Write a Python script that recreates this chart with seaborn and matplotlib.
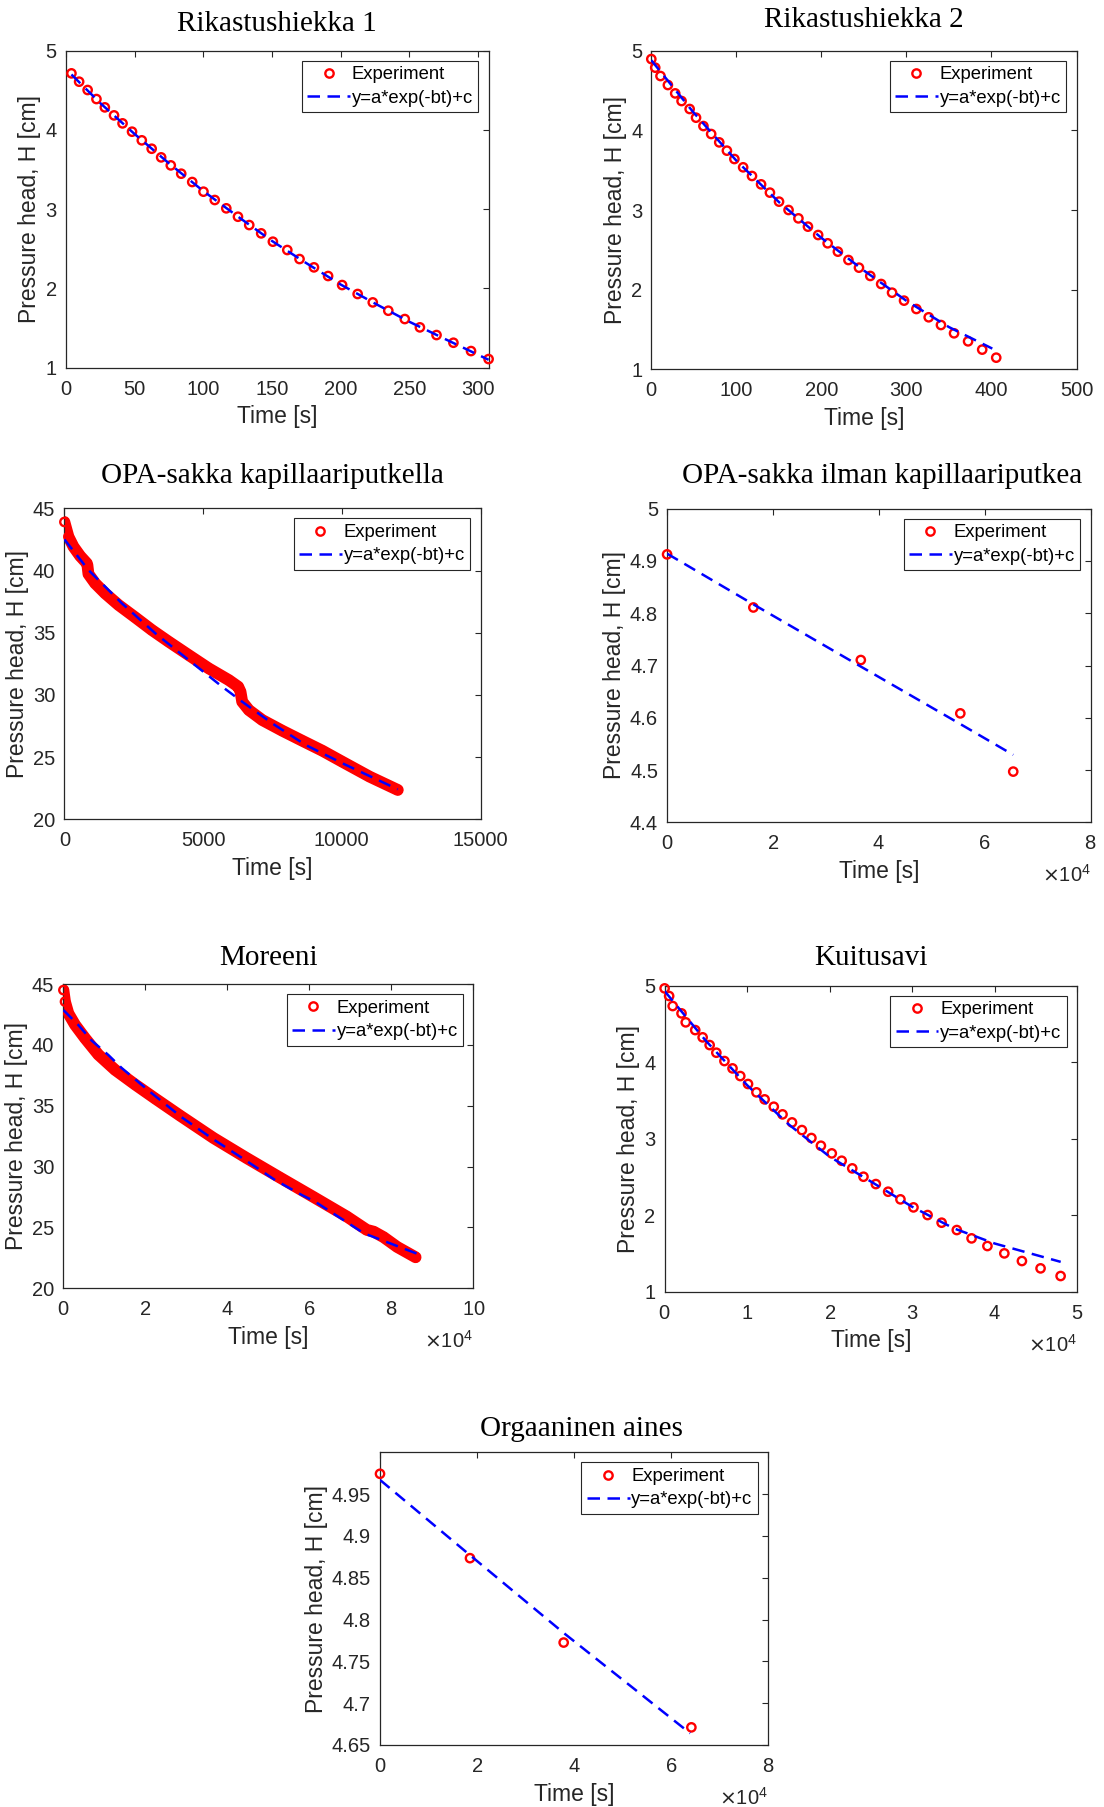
#!/usr/bin/env python3
"""
Falling-head test results: pressure head vs time for seven soil samples,
experiment points with the fitted curve y=a*exp(-bt)+c.
"""

import numpy as np
import pandas as pd
import matplotlib
matplotlib.use("Agg")
import matplotlib.pyplot as plt
import seaborn as sns
from matplotlib.lines import Line2D
from matplotlib.ticker import FuncFormatter, ScalarFormatter

# ── Style ─────────────────────────────────────────────────────────────────────
sns.set_theme(style="white")
plt.rcParams["font.family"] = ["Liberation Sans", "DejaVu Sans"]
DARK = (0.15, 0.15, 0.15)
MS, MEW = 6.0, 1.7          # marker size / edge width (pt)
FIT_LW, FIT_DASH = 1.8, (5.0, 3.0)

# ── Data ──────────────────────────────────────────────────────────────────────
# Rikastushiekka 1
rik1_t = [4.1, 9.7, 15.9, 22.3, 28.4, 35.1, 41.3, 48.2, 55.3, 62.5, 69.4, 76.4,
          84.0, 92.0, 100.2, 108.4, 116.8, 125.3, 133.5, 142.2, 150.7, 161.2,
          170.1, 180.6, 190.9, 201.1, 212.4, 223.4, 234.7, 246.7, 257.7, 269.8,
          282.1, 294.9, 307.7]
rik1_h = [4.714, 4.609, 4.504, 4.39, 4.285, 4.184, 4.083, 3.978, 3.869, 3.763,
          3.654, 3.553, 3.448, 3.343, 3.221, 3.116, 3.011, 2.905, 2.80, 2.695,
          2.590, 2.485, 2.371, 2.266, 2.157, 2.043, 1.930, 1.824, 1.719, 1.614,
          1.509, 1.412, 1.315, 1.210, 1.109]
rik1_fit_t = [4.1, 25, 50, 75, 100, 125, 150, 175, 200, 225, 250, 275, 307.7]
rik1_fit_h = [4.70, 4.34, 3.95, 3.58, 3.23, 2.91, 2.60, 2.32, 2.05, 1.81, 1.58, 1.37, 1.10]

# Rikastushiekka 2
rik2_t = [0, 4.6, 10.8, 19.5, 28.1, 35.6, 45.1, 52.6, 61.3, 70.4, 79.9, 88.9,
          97.7, 108.0, 118.4, 129.1, 139.5, 150.2, 161.4, 173.0, 184.2, 196.2,
          207.4, 219.4, 231.8, 244.2, 257.5, 270.3, 283.1, 297.2, 311.7, 326.2,
          340.6, 356.0, 372.5, 389.1, 405.6]
rik2_h = [4.895, 4.787, 4.682, 4.569, 4.464, 4.368, 4.268, 4.159, 4.054, 3.954,
          3.849, 3.745, 3.640, 3.536, 3.427, 3.322, 3.218, 3.105, 3.0, 2.895,
          2.791, 2.686, 2.582, 2.477, 2.372, 2.276, 2.172, 2.071, 1.962, 1.862,
          1.757, 1.653, 1.556, 1.452, 1.351, 1.247, 1.146]
rik2_fit_t = [0, 50, 100, 150, 200, 250, 300, 350, 401]
rik2_fit_h = [4.88, 4.22, 3.62, 3.10, 2.65, 2.24, 1.86, 1.53, 1.26]

# OPA-sakka kapillaariputkella
opa1_t = [0, 145, 325, 566, 807, 830, 867, 1108, 1470, 1952, 2554, 3157, 3759,
          4482, 5205, 5928, 6265, 6349, 6410, 6651, 7133, 7855, 8578, 9301,
          10024, 11002, 12018]
opa1_h = [43.9, 42.72, 41.92, 41.17, 40.58, 40.42, 39.72, 38.97, 38.16, 37.23,
          36.23, 35.21, 34.28, 33.2, 32.13, 31.19, 30.66, 30.25, 29.45, 28.78,
          27.98, 27.12, 26.31, 25.51, 24.62, 23.43, 22.36]
opa1_fit_t = [0, 867, 2072, 3277, 4482, 5687, 6410, 7494, 8699, 10024, 12018]
opa1_fit_h = [42.5, 40.04, 37.36, 34.95, 32.8, 30.66, 29.45, 27.71, 25.97, 24.5, 22.41]

# OPA-sakka ilman kapillaariputkea
opa2_t = [0, 16300, 36600, 55400, 65400]
opa2_h = [4.9126, 4.811, 4.7105, 4.6084, 4.497]
opa2_fit_t = [0, 16300, 36600, 55400, 65400]
opa2_fit_h = [4.914, 4.817, 4.698, 4.588, 4.529]

# Moreeni
mor_t = [0, 390, 1200, 2830, 5270, 8520, 12590, 17460, 22340, 28400, 36600,
         44700, 52800, 61000, 69100, 74000, 75700, 78100, 81400, 85900]
mor_h = [44.5, 43.55, 42.59, 41.65, 40.55, 39.2, 37.95, 36.75, 35.6, 34.2, 32.35,
         30.7, 29.1, 27.5, 25.9, 24.8, 24.65, 24.2, 23.4, 22.55]
mor_fit_t = [0, 3640, 6900, 10950, 14210, 18270, 21530, 28850, 36170, 44290,
             51610, 58120, 61370, 73300, 86200]
mor_fit_h = [42.86, 41.63, 40.35, 39.17, 38.1, 36.95, 36.03, 34.05, 32.33, 30.55,
             28.90, 27.67, 27.12, 24.52, 22.85]

# Kuitusavi
kui_t = [0, 550, 980, 2050, 2560, 3710, 4610, 5460, 6270, 7250, 8230, 9170,
         10110, 11130, 12120, 13230, 14290, 15440, 16640, 17790, 18940, 20260,
         21460, 22740, 24100, 25600, 27090, 28580, 30160, 31870, 33570, 35410,
         37200, 39120, 41170, 43300, 45560, 47990]
kui_h = [4.965, 4.865, 4.734, 4.638, 4.521, 4.42, 4.325, 4.224, 4.124, 4.015,
         3.919, 3.819, 3.715, 3.606, 3.514, 3.418, 3.318, 3.213, 3.113, 3.009,
         2.908, 2.808, 2.712, 2.612, 2.503, 2.407, 2.307, 2.207, 2.102, 2.002,
         1.902, 1.806, 1.697, 1.597, 1.501, 1.401, 1.305, 1.205]
kui_fit_t = [0, 5000, 10000, 15000, 20000, 25000, 30000, 35000, 40000, 45000, 48000]
kui_fit_h = [4.93, 4.28, 3.70, 3.19, 2.765, 2.44, 2.11, 1.83, 1.63, 1.48, 1.39]

# Orgaaninen aines
org_t = [0, 18540, 37840, 64150]
org_h = [4.9743, 4.8734, 4.7725, 4.6711]
org_fit_t = [0, 18540, 37840, 63900]
org_fit_h = [4.967, 4.877, 4.784, 4.664]

LEGEND_LABELS = ["Experiment", "y=a*exp(-bt)+c"]

# ── Figure ────────────────────────────────────────────────────────────────────
FIG_W, FIG_H = 1104, 1807
fig = plt.figure(figsize=(FIG_W / 100, FIG_H / 100), dpi=100)
fig.patch.set_facecolor("white")


def add_axes(left, top, right, bottom):
    return fig.add_axes([left / FIG_W, 1 - bottom / FIG_H,
                         (right - left) / FIG_W, (bottom - top) / FIG_H])


def draw_panel(ax, title, t, h, fit_t, fit_h, xlim, xticks, ylim, yticks,
               sci=False, dense=False, title_pad=14, title_x=0.5):
    exp_df = pd.DataFrame({"t": t, "h": h})
    fit_df = pd.DataFrame({"t": fit_t, "h": fit_h})

    if dense:
        # thousands of overlapping circles form a thick red band
        sns.lineplot(data=exp_df, x="t", y="h", ax=ax, color="red", linewidth=8.5,
                     sort=False, estimator=None, legend=False,
                     solid_capstyle="round", solid_joinstyle="round", zorder=2)
    sns.scatterplot(data=exp_df, x="t", y="h", ax=ax, marker="o", s=MS ** 2,
                    legend=False, clip_on=False, zorder=3)
    pc = ax.collections[-1]
    pc.set_facecolor("none")
    pc.set_edgecolor("red")
    pc.set_linewidth(MEW)

    sns.lineplot(data=fit_df, x="t", y="h", ax=ax, color="blue", linewidth=FIT_LW,
                 sort=False, estimator=None, legend=False, zorder=4)
    ax.lines[-1].set_dashes(FIT_DASH)

    ax.set_xlim(xlim)
    ax.set_ylim(ylim)
    ax.set_xticks(xticks)
    ax.set_yticks(yticks)
    ax.yaxis.set_major_formatter(FuncFormatter(lambda v, p: f"{v:g}"))
    if sci:
        fmt = ScalarFormatter(useMathText=True)
        fmt.set_powerlimits((4, 4))
        ax.xaxis.set_major_formatter(fmt)
        ax.xaxis.OFFSETTEXTPAD = 8
        ax.xaxis.get_offset_text().set_fontsize(14.5)
        ax.xaxis.get_offset_text().set_color(DARK)
    else:
        ax.xaxis.set_major_formatter(FuncFormatter(lambda v, p: f"{v:g}"))

    ax.tick_params(direction="in", top=True, right=True, length=4, width=0.8,
                   color=DARK, labelcolor=DARK, labelsize=14.5)
    ax.tick_params(axis="x", pad=8.5)
    ax.tick_params(axis="y", pad=6.5)
    for sp in ax.spines.values():
        sp.set_color(DARK)
        sp.set_linewidth(0.9)

    ax.set_xlabel("Time [s]", fontsize=16.5, color=DARK, labelpad=5)
    ax.set_ylabel("Pressure head, H [cm]", fontsize=16.5, color=DARK, labelpad=3)
    ax.set_title(title, family=["Liberation Serif", "DejaVu Serif"], fontsize=21,
                 color="black", pad=title_pad, x=title_x)

    handles = [
        Line2D([], [], ls="none", marker="o", ms=MS, mew=MEW, mfc="none", mec="red"),
        Line2D([], [], color="blue", lw=FIT_LW, dashes=FIT_DASH),
    ]
    leg = ax.legend(handles, LEGEND_LABELS, loc="upper right", fontsize=13.3,
                    frameon=True, fancybox=False, framealpha=1, edgecolor=DARK,
                    borderpad=0.3, labelspacing=0.35, handlelength=2.3,
                    handletextpad=0.1, borderaxespad=0.55)
    leg.get_frame().set_linewidth(0.8)
    for txt in leg.get_texts():
        txt.set_color("black")


ax1 = add_axes(65.8, 50.7, 488.6, 367.7)
draw_panel(ax1, "Rikastushiekka 1", rik1_t, rik1_h, rik1_fit_t, rik1_fit_h,
           (0, 307.7), range(0, 301, 50), (1, 5), range(1, 6), title_pad=14.2)

ax2 = add_axes(651.3, 50.7, 1076.5, 369.3)
draw_panel(ax2, "Rikastushiekka 2", rik2_t, rik2_h, rik2_fit_t, rik2_fit_h,
           (0, 500), range(0, 501, 100), (1, 5), range(1, 6), title_pad=17.3)

ax3 = add_axes(64.4, 508.3, 480.5, 819.3)
draw_panel(ax3, "OPA-sakka kapillaariputkella", opa1_t, opa1_h, opa1_fit_t, opa1_fit_h,
           (0, 15000), range(0, 15001, 5000), (20, 45), range(20, 46, 5),
           dense=True, title_pad=18.4)

ax4 = add_axes(667.1, 508.7, 1090.5, 822.3)
draw_panel(ax4, "OPA-sakka ilman kapillaariputkea", opa2_t, opa2_h, opa2_fit_t, opa2_fit_h,
           (0, 80000), range(0, 80001, 20000), (4.4, 5.0), np.arange(4.4, 5.01, 0.1),
           sci=True, title_pad=18.3, title_x=0.507)

ax5 = add_axes(63.4, 984, 473.4, 1288.3)
draw_panel(ax5, "Moreeni", mor_t, mor_h, mor_fit_t, mor_fit_h,
           (0, 100000), range(0, 100001, 20000), (20, 45), range(20, 46, 5),
           sci=True, dense=True, title_pad=13.7)

ax6 = add_axes(664.6, 985.7, 1077.2, 1291.7)
draw_panel(ax6, "Kuitusavi", kui_t, kui_h, kui_fit_t, kui_fit_h,
           (0, 50000), range(0, 50001, 10000), (1, 5), range(1, 6),
           sci=True, title_pad=14.9)

ax7 = add_axes(380, 1452.3, 768.3, 1745)
draw_panel(ax7, "Orgaaninen aines", org_t, org_h, org_fit_t, org_fit_h,
           (0, 80000), range(0, 80001, 20000), (4.65, 5.0), np.arange(4.65, 4.96, 0.05),
           sci=True, title_pad=11.7, title_x=0.518)

fig.savefig("out.png", dpi=100, facecolor="white")
print("saved out.png")
